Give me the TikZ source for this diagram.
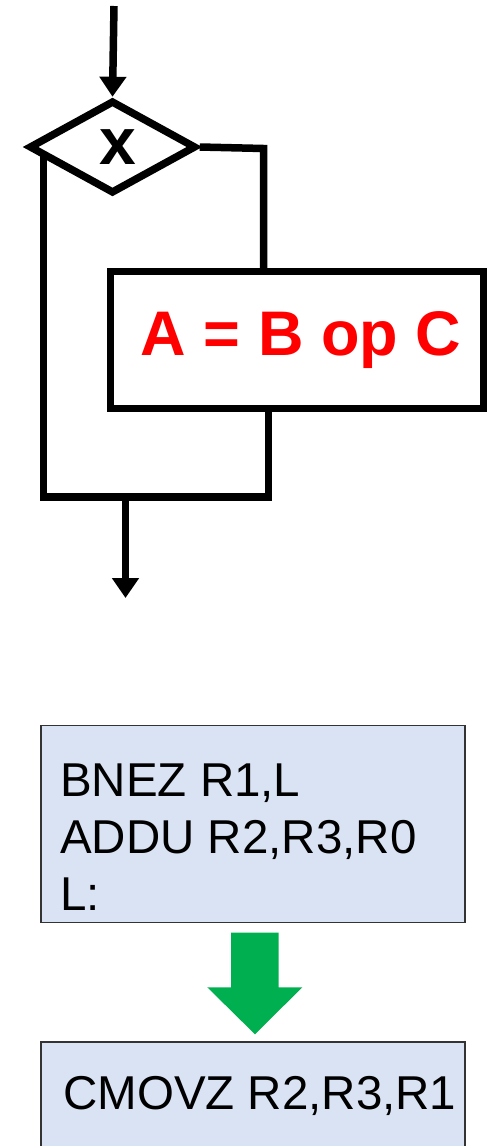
\documentclass[tikz,border=0pt]{standalone}
\usepackage{fontspec}
\setmainfont{Liberation Sans}
\usetikzlibrary{arrows.meta,shapes.geometric}
\definecolor{code_blue}{RGB}{218,227,243}
\definecolor{op_red}{RGB}{255,0,0}
\definecolor{go_green}{RGB}{0,176,80}
\tikzstyle{flow}=[line width=7.5pt]
\tikzstyle{flowarrow}=[line width=7.5pt,-{Triangle[width=26pt,length=20pt]}]
\tikzstyle{dec}=[diamond,draw=black,line width=7.5pt,inner sep=0pt,
  minimum width=167pt,minimum height=93pt,font=\fontsize{66}{66}\selectfont\bfseries]
\tikzstyle{op}=[rectangle,draw=black,line width=7.5pt,fill=white,minimum width=373pt,
  minimum height=137pt,text=op_red,font=\fontsize{63}{63}\selectfont\bfseries]
\tikzstyle{code}=[rectangle,draw=black!80,line width=1.5pt,fill=code_blue,
  minimum width=424pt,minimum height=197pt]
\tikzstyle{codetext}=[inner sep=0pt,align=left,anchor=north west,
  font=\fontsize{47.5}{56.7}\selectfont]
\tikzstyle{none}=[]
\begin{document}
\begin{tikzpicture}[x=1pt,y=-1pt]
            \useasboundingbox (0,0) rectangle (497,1146);
            \clip (0,0) rectangle (497,1146);
            \node [style=none] (0) at (114, 6) {};
            \node [style=dec] (1) at (112.5, 147) {\hspace*{11pt}x};
            \node [style=none] (2) at (263.5, 148.5) {};
            \node [style=op] (3) at (297, 340) {\hspace*{8pt}A = B op C};
            \node [style=none] (4) at (43.5, 155) {};
            \node [style=none] (5) at (268.5, 497) {};
            \node [style=none] (6) at (43.5, 497) {};
            \node [style=none] (7) at (125.5, 497) {};
            \node [style=none] (8) at (125.5, 598) {};
            \node [style=code] (9) at (253, 824) {};
            \node [style=codetext] (10) at (60, 764) {BNEZ R1,L\\ADDU R2,R3,R0\\L:};
            \node [style=code] (11) at (253, 1140.5) {};
            \node [style=codetext] (12) at (63, 1076) {CMOVZ R2,R3,R1};
            \draw [style=flowarrow] (0.center) to (1.north);
            \draw [style=flow] (1.east) -- (2.center) -- (2.center |- 3.north);
            \draw [style=flow] (4.center) -- (6.center) -- (5.center) -- (5.center |- 3.south);
            \draw [style=flowarrow] (7.center) to (8.center);
            % block arrow between the two code boxes
            \fill [go_green] (231, 932.7) -- (278.7, 932.7) -- (278.7, 987.3) -- (302.3, 987.3)
              -- (255, 1034.3) -- (207.3, 987.3) -- (231, 987.3) -- cycle;
    \end{tikzpicture}
\end{document}
